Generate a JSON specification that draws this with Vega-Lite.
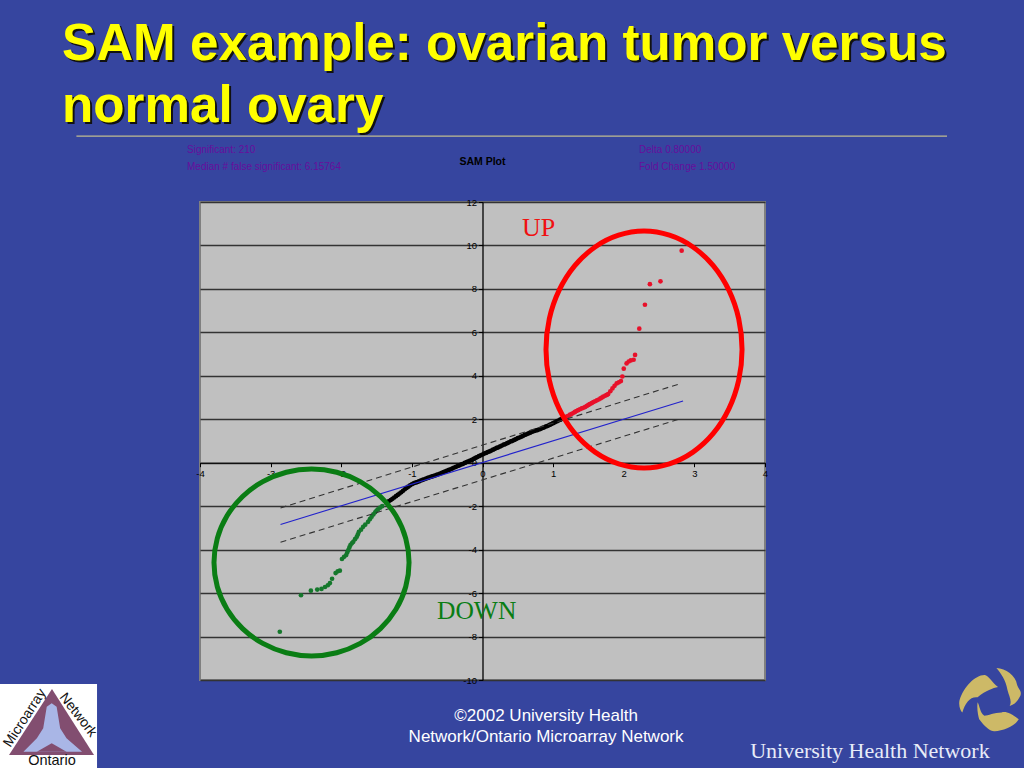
{"$schema":"https://vega.github.io/schema/vega-lite/v6.json","width":565,"height":478,"autosize":{"type":"none"},"padding":{"left":200,"top":202,"right":259,"bottom":88},"background":"#36459F","config":{"view":{"fill":"#C0C0C0","stroke":"#808080","strokeWidth":2},"font":"Liberation Sans"},"layer":[
{"data":{"values":[{"g":"up","x":2.82,"y":9.76},{"g":"up","x":2.52,"y":8.35},{"g":"up","x":2.37,"y":8.22},{"g":"up","x":2.30,"y":7.27},{"g":"up","x":2.22,"y":6.17},{"g":"up","x":2.16,"y":4.96},{"g":"up","x":2.14,"y":4.74},{"g":"up","x":2.10,"y":4.71},{"g":"up","x":2.07,"y":4.66},{"g":"up","x":2.04,"y":4.57},{"g":"up","x":2.00,"y":4.33},{"g":"up","x":1.98,"y":3.97},{"g":"up","x":1.96,"y":3.76},{"g":"up","x":1.93,"y":3.70},{"g":"up","x":1.90,"y":3.65},{"g":"up","x":1.87,"y":3.54},{"g":"up","x":1.84,"y":3.42},{"g":"up","x":1.81,"y":3.29},{"g":"up","x":1.78,"y":3.16},{"g":"up","x":1.76,"y":3.12},{"g":"up","x":1.74,"y":3.09},{"g":"up","x":1.71,"y":3.04},{"g":"up","x":1.69,"y":3.0},{"g":"up","x":1.67,"y":2.96},{"g":"up","x":1.645,"y":2.91},{"g":"up","x":1.62,"y":2.87},{"g":"up","x":1.595,"y":2.83},{"g":"up","x":1.57,"y":2.79},{"g":"up","x":1.545,"y":2.74},{"g":"up","x":1.52,"y":2.70},{"g":"up","x":1.5,"y":2.66},{"g":"up","x":1.48,"y":2.62},{"g":"up","x":1.455,"y":2.57},{"g":"up","x":1.43,"y":2.53},{"g":"up","x":1.405,"y":2.5},{"g":"up","x":1.38,"y":2.46},{"g":"up","x":1.355,"y":2.42},{"g":"up","x":1.33,"y":2.38},{"g":"up","x":1.31,"y":2.34},{"g":"up","x":1.29,"y":2.30},{"g":"up","x":1.265,"y":2.25},{"g":"up","x":1.24,"y":2.21},{"g":"up","x":1.215,"y":2.16},{"g":"up","x":1.19,"y":2.12},{"g":"down","x":-2.87,"y":-7.78},{"g":"down","x":-2.57,"y":-6.10},{"g":"down","x":-2.43,"y":-5.89},{"g":"down","x":-2.34,"y":-5.84},{"g":"down","x":-2.28,"y":-5.81},{"g":"down","x":-2.23,"y":-5.72},{"g":"down","x":-2.19,"y":-5.64},{"g":"down","x":-2.16,"y":-5.54},{"g":"down","x":-2.13,"y":-5.34},{"g":"down","x":-2.08,"y":-5.08},{"g":"down","x":-2.05,"y":-5.00},{"g":"down","x":-2.02,"y":-4.97},{"g":"down","x":-1.99,"y":-4.43},{"g":"down","x":-1.96,"y":-4.33},{"g":"down","x":-1.93,"y":-4.25},{"g":"down","x":-1.915,"y":-4.13},{"g":"down","x":-1.90,"y":-4.02},{"g":"down","x":-1.885,"y":-3.9},{"g":"down","x":-1.87,"y":-3.79},{"g":"down","x":-1.85,"y":-3.71},{"g":"down","x":-1.83,"y":-3.64},{"g":"down","x":-1.805,"y":-3.52},{"g":"down","x":-1.78,"y":-3.41},{"g":"down","x":-1.765,"y":-3.3},{"g":"down","x":-1.75,"y":-3.18},{"g":"down","x":-1.72,"y":-3.08},{"g":"down","x":-1.69,"y":-2.95},{"g":"down","x":-1.66,"y":-2.85},{"g":"down","x":-1.62,"y":-2.72},{"g":"down","x":-1.595,"y":-2.6},{"g":"down","x":-1.57,"y":-2.49},{"g":"down","x":-1.545,"y":-2.38},{"g":"down","x":-1.52,"y":-2.28},{"g":"down","x":-1.5,"y":-2.2},{"g":"down","x":-1.48,"y":-2.14},{"g":"down","x":-1.45,"y":-2.07},{"g":"down","x":-1.42,"y":-2.00},{"g":"mid","x":-1.36,"y":-1.85},{"g":"mid","x":-1.33,"y":-1.78},{"g":"mid","x":-1.3,"y":-1.72},{"g":"mid","x":-1.275,"y":-1.66},{"g":"mid","x":-1.25,"y":-1.6},{"g":"mid","x":-1.225,"y":-1.54},{"g":"mid","x":-1.2,"y":-1.48},{"g":"mid","x":-1.175,"y":-1.42},{"g":"mid","x":-1.15,"y":-1.36},{"g":"mid","x":-1.125,"y":-1.29},{"g":"mid","x":-1.1,"y":-1.22},{"g":"mid","x":-1.075,"y":-1.16},{"g":"mid","x":-1.05,"y":-1.1},{"g":"mid","x":-1.025,"y":-1.04},{"g":"mid","x":-1.0,"y":-0.99},{"g":"mid","x":-0.975,"y":-0.95},{"g":"mid","x":-0.95,"y":-0.92},{"g":"mid","x":-0.925,"y":-0.89},{"g":"mid","x":-0.9,"y":-0.86},{"g":"mid","x":-0.875,"y":-0.82},{"g":"mid","x":-0.85,"y":-0.79},{"g":"mid","x":-0.825,"y":-0.76},{"g":"mid","x":-0.8,"y":-0.73},{"g":"mid","x":-0.775,"y":-0.7},{"g":"mid","x":-0.75,"y":-0.67},{"g":"mid","x":-0.725,"y":-0.64},{"g":"mid","x":-0.7,"y":-0.62},{"g":"mid","x":-0.675,"y":-0.59},{"g":"mid","x":-0.65,"y":-0.56},{"g":"mid","x":-0.625,"y":-0.53},{"g":"mid","x":-0.6,"y":-0.5},{"g":"mid","x":-0.575,"y":-0.47},{"g":"mid","x":-0.55,"y":-0.43},{"g":"mid","x":-0.525,"y":-0.4},{"g":"mid","x":-0.5,"y":-0.36},{"g":"mid","x":-0.475,"y":-0.33},{"g":"mid","x":-0.45,"y":-0.3},{"g":"mid","x":-0.425,"y":-0.26},{"g":"mid","x":-0.4,"y":-0.22},{"g":"mid","x":-0.375,"y":-0.19},{"g":"mid","x":-0.35,"y":-0.15},{"g":"mid","x":-0.325,"y":-0.12},{"g":"mid","x":-0.3,"y":-0.08},{"g":"mid","x":-0.275,"y":-0.05},{"g":"mid","x":-0.25,"y":-0.01},{"g":"mid","x":-0.225,"y":0.03},{"g":"mid","x":-0.2,"y":0.06},{"g":"mid","x":-0.175,"y":0.1},{"g":"mid","x":-0.15,"y":0.13},{"g":"mid","x":-0.125,"y":0.18},{"g":"mid","x":-0.1,"y":0.22},{"g":"mid","x":-0.075,"y":0.26},{"g":"mid","x":-0.05,"y":0.3},{"g":"mid","x":-0.025,"y":0.34},{"g":"mid","x":0,"y":0.38},{"g":"mid","x":0.025,"y":0.42},{"g":"mid","x":0.05,"y":0.45},{"g":"mid","x":0.075,"y":0.49},{"g":"mid","x":0.1,"y":0.52},{"g":"mid","x":0.125,"y":0.56},{"g":"mid","x":0.15,"y":0.6},{"g":"mid","x":0.175,"y":0.64},{"g":"mid","x":0.2,"y":0.68},{"g":"mid","x":0.225,"y":0.71},{"g":"mid","x":0.25,"y":0.75},{"g":"mid","x":0.275,"y":0.79},{"g":"mid","x":0.3,"y":0.83},{"g":"mid","x":0.325,"y":0.86},{"g":"mid","x":0.35,"y":0.9},{"g":"mid","x":0.375,"y":0.94},{"g":"mid","x":0.4,"y":0.98},{"g":"mid","x":0.425,"y":1.01},{"g":"mid","x":0.45,"y":1.05},{"g":"mid","x":0.475,"y":1.09},{"g":"mid","x":0.5,"y":1.13},{"g":"mid","x":0.525,"y":1.16},{"g":"mid","x":0.55,"y":1.2},{"g":"mid","x":0.575,"y":1.24},{"g":"mid","x":0.6,"y":1.28},{"g":"mid","x":0.625,"y":1.31},{"g":"mid","x":0.65,"y":1.35},{"g":"mid","x":0.675,"y":1.38},{"g":"mid","x":0.7,"y":1.42},{"g":"mid","x":0.725,"y":1.45},{"g":"mid","x":0.75,"y":1.48},{"g":"mid","x":0.775,"y":1.5},{"g":"mid","x":0.8,"y":1.53},{"g":"mid","x":0.825,"y":1.56},{"g":"mid","x":0.85,"y":1.6},{"g":"mid","x":0.875,"y":1.63},{"g":"mid","x":0.9,"y":1.67},{"g":"mid","x":0.925,"y":1.7},{"g":"mid","x":0.95,"y":1.74},{"g":"mid","x":0.975,"y":1.78},{"g":"mid","x":1,"y":1.82},{"g":"mid","x":1.025,"y":1.86},{"g":"mid","x":1.05,"y":1.9},{"g":"mid","x":1.075,"y":1.94},{"g":"mid","x":1.1,"y":1.98},{"g":"mid","x":1.12,"y":2.01},{"g":"mid","x":1.14,"y":2.04}]},
"mark":{"type":"point","filled":true,"opacity":1},
"encoding":{"x":{"field":"x","type":"quantitative","scale":{"domain":[-4,4],"nice":false,"zero":false},"axis":{"title":null,"orient":"bottom","offset":-217.3,"values":[-4,-3,-2,-1,0,1,2,3,4],"grid":false,"domainColor":"#000","tickColor":"#000","tickSize":4,"labelFont":"Liberation Sans","labelFontSize":9.5,"labelColor":"#000","labelOverlap":false,"labelBound":false,"labelFlush":false,"labelExpr":"'' + datum.value"}},
"y":{"field":"y","type":"quantitative","scale":{"domain":[-10,12],"nice":false,"zero":false},"axis":{"title":null,"orient":"left","offset":-282.5,"values":[-10,-8,-6,-4,-2,0,2,4,6,8,10,12],"grid":true,"gridColor":"#333","gridWidth":1.5,"domainColor":"#000","domainWidth":1.3,"tickColor":"#000","tickSize":4,"labelFont":"Liberation Sans","labelFontSize":9.5,"labelColor":"#000","labelOverlap":false,"labelBound":false,"labelFlush":false,"labelExpr":"'' + datum.value"}},
"color":{"field":"g","type":"nominal","legend":null,"scale":{"domain":["up","down","mid"],"range":["#E8102A","#15782C","#000000"]}},
"size":{"field":"g","type":"nominal","legend":null,"scale":{"domain":["up","down","mid"],"range":[22,22,38]}}}},
{"data":{"values":[{"k":"sig","x":-2.86,"y":-2.84},{"k":"sig","x":2.84,"y":2.84}]},"mark":{"type":"line","color":"#2222CC","strokeWidth":1.1},"encoding":{"x":{"field":"x","type":"quantitative"},"y":{"field":"y","type":"quantitative"}}},
{"data":{"values":[{"k":"hi","x":-2.86,"y":-2.08},{"k":"hi","x":2.78,"y":3.62},{"k":"lo","x":-2.86,"y":-3.66},{"k":"lo","x":2.78,"y":2.0}]},"mark":{"type":"line","color":"#333333","strokeWidth":1.1,"strokeDash":[6,4]},"encoding":{"x":{"field":"x","type":"quantitative"},"y":{"field":"y","type":"quantitative"},"detail":{"field":"k"}}},
{"data":{"values":[{"i":0,"x":3.675,"y":5.21},{"i":1,"x":3.628,"y":6.62},{"i":2,"x":3.49,"y":7.93},{"i":3,"x":3.27,"y":9.06},{"i":4,"x":2.98,"y":9.93},{"i":5,"x":2.647,"y":10.47},{"i":6,"x":2.287,"y":10.66},{"i":7,"x":1.927,"y":10.47},{"i":8,"x":1.594,"y":9.93},{"i":9,"x":1.304,"y":9.06},{"i":10,"x":1.084,"y":7.93},{"i":11,"x":0.946,"y":6.62},{"i":12,"x":0.899,"y":5.21},{"i":13,"x":0.946,"y":3.8},{"i":14,"x":1.084,"y":2.49},{"i":15,"x":1.304,"y":1.36},{"i":16,"x":1.594,"y":0.49},{"i":17,"x":1.927,"y":-0.05},{"i":18,"x":2.287,"y":-0.24},{"i":19,"x":2.647,"y":-0.05},{"i":20,"x":2.98,"y":0.49},{"i":21,"x":3.27,"y":1.36},{"i":22,"x":3.49,"y":2.49},{"i":23,"x":3.628,"y":3.8}]},"mark":{"type":"line","color":"#FF0000","strokeWidth":5,"interpolate":"cardinal-closed"},"encoding":{"x":{"field":"x","type":"quantitative"},"y":{"field":"y","type":"quantitative"},"order":{"field":"i"}}},
{"data":{"values":[{"i":0,"x":-1.04,"y":-4.593},{"i":1,"x":-1.087,"y":-3.48},{"i":2,"x":-1.225,"y":-2.443},{"i":3,"x":-1.445,"y":-1.552},{"i":4,"x":-1.731,"y":-0.869},{"i":5,"x":-2.064,"y":-0.44},{"i":6,"x":-2.421,"y":-0.293},{"i":7,"x":-2.778,"y":-0.44},{"i":8,"x":-3.111,"y":-0.869},{"i":9,"x":-3.397,"y":-1.552},{"i":10,"x":-3.617,"y":-2.443},{"i":11,"x":-3.755,"y":-3.48},{"i":12,"x":-3.802,"y":-4.593},{"i":13,"x":-3.755,"y":-5.706},{"i":14,"x":-3.617,"y":-6.743},{"i":15,"x":-3.397,"y":-7.634},{"i":16,"x":-3.111,"y":-8.317},{"i":17,"x":-2.778,"y":-8.746},{"i":18,"x":-2.421,"y":-8.893},{"i":19,"x":-2.064,"y":-8.746},{"i":20,"x":-1.731,"y":-8.317},{"i":21,"x":-1.445,"y":-7.634},{"i":22,"x":-1.225,"y":-6.743},{"i":23,"x":-1.087,"y":-5.706}]},"mark":{"type":"line","color":"#0A7D14","strokeWidth":5,"interpolate":"cardinal-closed"},"encoding":{"x":{"field":"x","type":"quantitative"},"y":{"field":"y","type":"quantitative"},"order":{"field":"i"}}},
{"data":{"values":[{"t":"UP","x":0.56,"y":10.43}]},"mark":{"type":"text","font":"Liberation Serif","fontSize":26,"color":"#F01010","align":"left","baseline":"alphabetic"},"encoding":{"x":{"field":"x","type":"quantitative"},"y":{"field":"y","type":"quantitative"},"text":{"field":"t"}}},
{"data":{"values":[{"t":"DOWN","x":-0.644,"y":-7.19}]},"mark":{"type":"text","font":"Liberation Serif","fontSize":25.5,"color":"#0A7D14","align":"left","baseline":"alphabetic"},"encoding":{"x":{"field":"x","type":"quantitative"},"y":{"field":"y","type":"quantitative"},"text":{"field":"t"}}},
{"data":{"values":[{"t":"SAM example: ovarian tumor versus","x":-5.954,"y":18.53},{"t":"normal ovary","x":-5.954,"y":15.68}]},"mark":{"type":"text","fontSize":51.2,"fontWeight":"bold","color":"#111111","align":"left","baseline":"alphabetic","dx":2,"dy":2},"encoding":{"x":{"field":"x","type":"quantitative"},"y":{"field":"y","type":"quantitative"},"text":{"field":"t"}}},
{"data":{"values":[{"t":"SAM example: ovarian tumor versus","x":-5.954,"y":18.53},{"t":"normal ovary","x":-5.954,"y":15.68}]},"mark":{"type":"text","fontSize":51.2,"fontWeight":"bold","color":"#FFFF00","align":"left","baseline":"alphabetic"},"encoding":{"x":{"field":"x","type":"quantitative"},"y":{"field":"y","type":"quantitative"},"text":{"field":"t"}}},
{"data":{"values":[{"x":-5.75,"x2":6.577,"y":15.03}]},"mark":{"type":"rule","color":"#C0BC90","strokeWidth":1.2},"encoding":{"x":{"field":"x","type":"quantitative"},"x2":{"field":"x2"},"y":{"field":"y","type":"quantitative"}}},
{"data":{"values":[{"t":"Significant: 210","x":-4.184,"y":14.39},{"t":"Median # false significant: 6.15764","x":-4.184,"y":13.6},{"t":"Delta 0.80000","x":2.216,"y":14.39},{"t":"Fold Change 1.50000","x":2.216,"y":13.6}]},"mark":{"type":"text","fontSize":10,"color":"#660E9C","align":"left","baseline":"middle"},"encoding":{"x":{"field":"x","type":"quantitative"},"y":{"field":"y","type":"quantitative"},"text":{"field":"t"}}},
{"data":{"values":[{"t":"SAM Plot","x":0,"y":13.84}]},"mark":{"type":"text","fontSize":10.5,"fontWeight":"bold","color":"#000000","align":"center","baseline":"middle"},"encoding":{"x":{"field":"x","type":"quantitative"},"y":{"field":"y","type":"quantitative"},"text":{"field":"t"}}},
{"data":{"values":[{"t":"©2002 University Health","x":0.9,"y":-11.89},{"t":"Network/Ontario Microarray Network","x":0.9,"y":-12.85}]},"mark":{"type":"text","fontSize":17,"color":"#FFFFFF","align":"center","baseline":"alphabetic"},"encoding":{"x":{"field":"x","type":"quantitative"},"y":{"field":"y","type":"quantitative"},"text":{"field":"t"}}},
{"data":{"values":[{"t":"University Health Network","x":3.79,"y":-13.59}]},"mark":{"type":"text","font":"Liberation Serif","fontSize":22,"color":"#E8ECF8","align":"left","baseline":"alphabetic"},"encoding":{"x":{"field":"x","type":"quantitative"},"y":{"field":"y","type":"quantitative"},"text":{"field":"t"}}},
{"data":{"values":[{"k":"emblem","x":7.18,"y":-10.9}]},"mark":{"type":"point","filled":true,"opacity":1,"color":"#CDB967","size":4200,"clip":false,"shape":"M.26,-.39C.1,-.5,-.05,-.78,-.16,-.76C-.45,-.75,-.8,-.4,-.93,.03C-.96,.2,-.9,.35,-.84,.4C-.75,.1,-.6,-.1,-.37,-.07C-.1,-.3,.1,-.35,.26,-.39ZM.21,-.97C.5,-.95,.8,-.75,.85,-.45C.9,-.3,1,-.28,.95,-.12C.85,.05,.8,.15,.62,.2C.7,.05,.6,-.1,.55,-.3C.5,-.6,.35,-.8,.21,-.97ZM-.37,.08C-.4,.3,-.35,.5,-.32,.61C-.15,.85,.05,1,.16,.98C.4,.95,.75,.85,.9,.61C.7,.45,.5,.35,.37,.4C.15,.4,-.05,.5,-.16,.5C-.3,.4,-.3,.2,-.37,.08Z"},"encoding":{"x":{"field":"x","type":"quantitative"},"y":{"field":"y","type":"quantitative"}}},
{"data":{"values":[{"x":-6.832,"x2":-5.458,"y":-10.18,"y2":-14.05}]},"mark":{"type":"rect","color":"#FFFFFF"},"encoding":{"x":{"field":"x","type":"quantitative"},"x2":{"field":"x2"},"y":{"field":"y","type":"quantitative"},"y2":{"field":"y2"}}},
{"data":{"values":[{"x":-6.704,"y":-13.45,"y2":-13.45},{"x":-6.096,"y":-10.41,"y2":-13.45},{"x":-5.501,"y":-13.45,"y2":-13.45}]},"mark":{"type":"area","color":"#824E70","opacity":1},"encoding":{"x":{"field":"x","type":"quantitative"},"y":{"field":"y","type":"quantitative"},"y2":{"field":"y2"}}},
{"data":{"values":[{"x":-6.5,"y":-13.3,"y2":-13.3},{"x":-6.31,"y":-12.68,"y2":-13.3},{"x":-6.22,"y":-12.22,"y2":-13.3},{"x":-6.17,"y":-11.23,"y2":-13.3},{"x":-6.1,"y":-11.07,"y2":-13.3},{"x":-6.03,"y":-11.23,"y2":-13.3},{"x":-5.98,"y":-12.22,"y2":-13.3},{"x":-5.89,"y":-12.68,"y2":-13.3},{"x":-5.67,"y":-13.3,"y2":-13.3}]},"mark":{"type":"area","color":"#A9B6E6","opacity":1},"encoding":{"x":{"field":"x","type":"quantitative"},"y":{"field":"y","type":"quantitative"},"y2":{"field":"y2"}}},
{"data":{"values":[{"x":-6.31,"y":-13.3,"y2":-13.3},{"x":-6.1,"y":-12.91,"y2":-13.3},{"x":-5.89,"y":-13.3,"y2":-13.3}]},"mark":{"type":"area","color":"#824E70","opacity":1},"encoding":{"x":{"field":"x","type":"quantitative"},"y":{"field":"y","type":"quantitative"},"y2":{"field":"y2"}}},
{"data":{"values":[{"t":"Microarray","x":-6.478,"y":-11.75}]},"mark":{"type":"text","fontSize":14,"angle":303,"color":"#111111","align":"center","baseline":"middle"},"encoding":{"x":{"field":"x","type":"quantitative"},"y":{"field":"y","type":"quantitative"},"text":{"field":"t"}}},
{"data":{"values":[{"t":"Network","x":-5.727,"y":-11.61}]},"mark":{"type":"text","fontSize":14,"angle":52,"color":"#111111","align":"center","baseline":"middle"},"encoding":{"x":{"field":"x","type":"quantitative"},"y":{"field":"y","type":"quantitative"},"text":{"field":"t"}}},
{"data":{"values":[{"t":"Ontario","x":-6.096,"y":-13.72}]},"mark":{"type":"text","fontSize":14.5,"color":"#111111","align":"center","baseline":"middle"},"encoding":{"x":{"field":"x","type":"quantitative"},"y":{"field":"y","type":"quantitative"},"text":{"field":"t"}}}
]}
